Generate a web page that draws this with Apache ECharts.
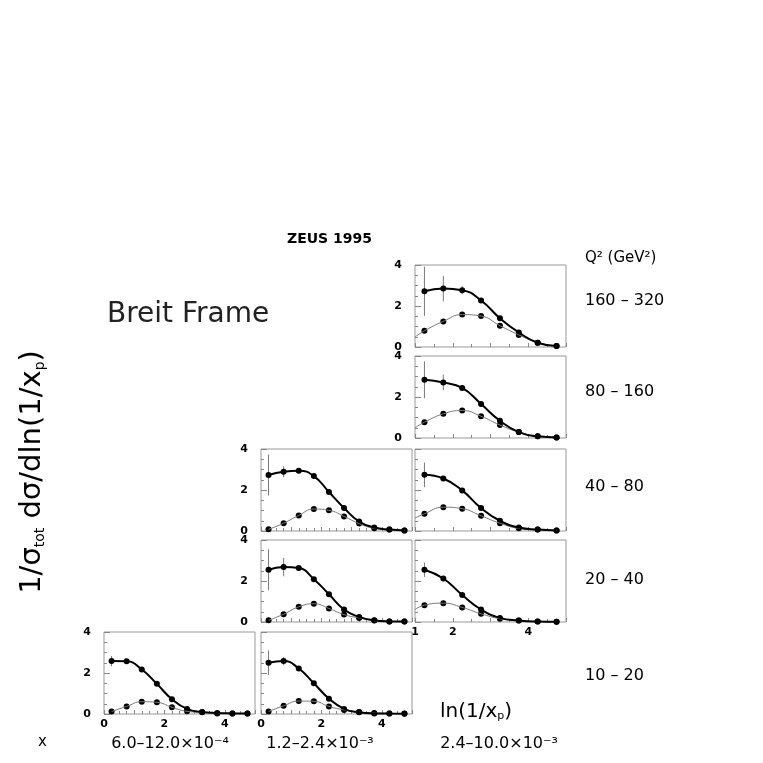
<!DOCTYPE html>
<html>
<head>
<meta charset="utf-8">
<title>ZEUS 1995 - Breit Frame</title>
<script src="https://cdn.jsdelivr.net/npm/echarts@6.0.0/dist/echarts.min.js"></script>
<style>
  html, body { margin: 0; padding: 0; background: #fff; }
  #ch-main { width: 763px; height: 763px; }
</style>
</head>
<body>
<div id="ch-main"></div>
<script>
// ln(1/xp) bin centres
var binsLow = [0.25, 0.75, 1.25, 1.75, 2.25, 2.75, 3.25, 3.75, 4.25, 4.75];
var binsHigh = [1.25, 1.75, 2.25, 2.75, 3.25, 3.75, 4.25, 4.75];

var q2Ranges = ['160 \u2013 320', '80 \u2013 160', '40 \u2013 80', '20 \u2013 40', '10 \u2013 20'];
var xRanges = ['6.0\u201312.0\u00d710\u207b\u2074', '1.2\u20132.4\u00d710\u207b\u00b3', '2.4\u201310.0\u00d710\u207b\u00b3'];
var xTicksLow = [0, 2, 4];
var xTicksHigh = [1, 2, 4];

// Q2 160-320, x 2.4-10.0e-3
var thick160c3 = [2.72, 2.85, 2.77, 2.27, 1.40, 0.71, 0.21, 0.05];
var thin160c3 = [0.79, 1.25, 1.58, 1.51, 1.04, 0.59, 0.21, 0.05];
var err160c3 = [1.2, 0.62, 0.2, 0.08, 0.06, 0.05, 0.03, 0.02];
var edge160c3 = 0.49;

// Q2 80-160, x 2.4-10.0e-3
var thick80c3 = [2.84, 2.71, 2.44, 1.66, 0.84, 0.29, 0.08, 0.03];
var thin80c3 = [0.77, 1.18, 1.34, 1.06, 0.63, 0.29, 0.08, 0.03];
var err80c3 = [0.9, 0.38, 0.12, 0.06, 0.05, 0.04, 0.02, 0.02];
var edge80c3 = 0.5;

// Q2 40-80, x 1.2-2.4e-3
var thick40c2 = [2.73, 2.89, 2.94, 2.68, 1.90, 1.12, 0.46, 0.17, 0.07, 0.03];
var thin40c2 = [0.08, 0.38, 0.76, 1.07, 1.01, 0.71, 0.36, 0.13, 0.07, 0.03];
var err40c2 = [1.0, 0.27, 0.12, 0.08, 0.06, 0.05, 0.03, 0.02, 0.02, 0.01];

// Q2 40-80, x 2.4-10.0e-3
var thick40c3 = [2.74, 2.56, 1.98, 1.12, 0.50, 0.17, 0.07, 0.03];
var thin40c3 = [0.84, 1.16, 1.09, 0.74, 0.38, 0.13, 0.07, 0.03];
var err40c3 = [0.6, 0.12, 0.08, 0.06, 0.04, 0.03, 0.02, 0.01];
var edge40c3 = 0.63;

// Q2 20-40, x 1.2-2.4e-3
var thick20c2 = [2.55, 2.68, 2.63, 2.09, 1.35, 0.61, 0.25, 0.08, 0.03, 0.02];
var thin20c2 = [0.08, 0.38, 0.74, 0.89, 0.66, 0.36, 0.20, 0.07, 0.03, 0.02];
var err20c2 = [1.0, 0.45, 0.1, 0.06, 0.05, 0.04, 0.03, 0.02, 0.01, 0.01];

// Q2 20-40, x 2.4-10.0e-3
var thick20c3 = [2.55, 2.12, 1.32, 0.61, 0.20, 0.07, 0.02, 0.01];
var thin20c3 = [0.82, 0.92, 0.71, 0.40, 0.16, 0.07, 0.02, 0.01];
var err20c3 = [0.35, 0.1, 0.06, 0.05, 0.03, 0.02, 0.01, 0.01];
var edge20c3 = 0.61;

// Q2 10-20, x 6.0-12.0e-4
var thick10c1 = [2.58, 2.57, 2.17, 1.47, 0.72, 0.25, 0.10, 0.05, 0.03, 0.02];
var thin10c1 = [0.12, 0.37, 0.60, 0.57, 0.33, 0.13, 0.08, 0.03, 0.03, 0.02];
var err10c1 = [0.25, 0.1, 0.06, 0.05, 0.04, 0.03, 0.02, 0.01, 0.01, 0.01];

// Q2 10-20, x 1.2-2.4e-3
var thick10c2 = [2.50, 2.58, 2.22, 1.50, 0.75, 0.25, 0.08, 0.03, 0.02, 0.01];
var thin10c2 = [0.12, 0.40, 0.63, 0.62, 0.37, 0.20, 0.10, 0.05, 0.03, 0.02];
var err10c2 = [0.6, 0.2, 0.08, 0.06, 0.05, 0.03, 0.02, 0.01, 0.01, 0.01];

var panels = [
    {row: 0, col: 2, thick: thick160c3, thin: thin160c3, err: err160c3, edge: edge160c3, yLab: true},
    {row: 1, col: 2, thick: thick80c3, thin: thin80c3, err: err80c3, edge: edge80c3, yLab: true},
    {row: 2, col: 1, thick: thick40c2, thin: thin40c2, err: err40c2, yLab: true},
    {row: 2, col: 2, thick: thick40c3, thin: thin40c3, err: err40c3, edge: edge40c3},
    {row: 3, col: 1, thick: thick20c2, thin: thin20c2, err: err20c2, yLab: true},
    {row: 3, col: 2, thick: thick20c3, thin: thin20c3, err: err20c3, edge: edge20c3, xLab: true},
    {row: 4, col: 0, thick: thick10c1, thin: thin10c1, err: err10c1, yLab: true, xLab: true},
    {row: 4, col: 1, thick: thick10c2, thin: thin10c2, err: err10c2, xLab: true}
];

var colLeft = [104, 261, 415];
var rowTop = [265, 356, 449, 540, 632];
var FONT = 'DejaVu Sans';

var myChart = echarts.init(document.getElementById('ch-main'));

var grids = [], xAxes = [], yAxes = [], series = [];

panels.forEach(function (p, i) {
    var high = p.col === 2;
    var bins = high ? binsHigh : binsLow;
    var labs = high ? xTicksHigh : xTicksLow;

    grids.push({left: colLeft[p.col], top: rowTop[p.row], width: 151, height: 82,
        show: true, borderColor: '#999', borderWidth: 1});

    xAxes.push({
        gridIndex: i, type: 'value', min: high ? 1 : 0, max: 5, interval: 1,
        axisLine: {show: false}, splitLine: {show: false},
        axisTick: {show: true, inside: true, length: 4, lineStyle: {color: '#888'}},
        minorTick: {show: true, splitNumber: high ? 2 : 4, length: 3, lineStyle: {color: '#888'}},
        axisLabel: {show: !!p.xLab, margin: 5, fontSize: 11, fontWeight: 'bold', color: '#000', fontFamily: FONT,
            formatter: function (v) { return labs.indexOf(v) >= 0 ? String(v) : ''; }}
    });
    yAxes.push({
        gridIndex: i, type: 'value', min: 0, max: 4, interval: 2,
        axisLine: {show: false}, splitLine: {show: false},
        axisTick: {show: true, inside: true, length: 6, lineStyle: {color: '#888'}},
        minorTick: {show: true, splitNumber: 4, length: 3, lineStyle: {color: '#888'}},
        axisLabel: {show: !!p.yLab, margin: 13, fontSize: 11, fontWeight: 'bold', color: '#000', fontFamily: FONT}
    });

    var thickPts = bins.map(function (x, k) { return [x, p.thick[k]]; });
    var thinPts = bins.map(function (x, k) { return [x, p.thin[k]]; });
    var thinLine = p.edge !== undefined ? [[1, p.edge]].concat(thinPts) : thinPts;
    var errData = bins.map(function (x, k) { return [x, p.thick[k] - p.err[k], p.thick[k] + p.err[k]]; });

    series.push({
        type: 'custom', xAxisIndex: i, yAxisIndex: i, data: errData, silent: true,
        encode: {x: 0, y: [1, 2]},
        renderItem: function (params, api) {
            var a = api.coord([api.value(0), api.value(1)]);
            var b = api.coord([api.value(0), api.value(2)]);
            return {type: 'line', shape: {x1: a[0], y1: a[1], x2: b[0], y2: b[1]},
                style: {stroke: '#777', lineWidth: 1}};
        }
    });
    series.push({type: 'line', xAxisIndex: i, yAxisIndex: i, data: thinLine, smooth: 0.5,
        showSymbol: false, silent: true, lineStyle: {color: '#777', width: 1}});
    series.push({type: 'line', xAxisIndex: i, yAxisIndex: i, data: thickPts, smooth: 0.5,
        showSymbol: false, silent: true, lineStyle: {color: '#000', width: 2}});
    series.push({type: 'scatter', xAxisIndex: i, yAxisIndex: i, data: thickPts.concat(thinPts),
        symbolSize: 6, silent: true, itemStyle: {color: '#000', opacity: 1}});
});

var texts = [
    {type: 'text', left: 287, top: 232, style: {text: 'ZEUS 1995', font: 'bold 14px ' + FONT, fill: '#000'}},
    {type: 'text', left: 107, top: 301, style: {text: 'Breit Frame', font: '28px ' + FONT, fill: '#222'}},
    {type: 'text', left: 585, top: 251, style: {text: 'Q\u00b2 (GeV\u00b2)', font: '15px ' + FONT, fill: '#000'}},
    {type: 'text', left: 38, top: 735, style: {text: 'x', font: '15px ' + FONT, fill: '#000'}},
    {type: 'text', left: 440, top: 702, style: {
        text: '{a|ln(1/x}{s|p}{a|)}', fill: '#000',
        rich: {a: {fontSize: 20, fontFamily: FONT, lineHeight: 28, verticalAlign: 'bottom'},
               s: {fontSize: 11, fontFamily: FONT, lineHeight: 22, verticalAlign: 'bottom'}}}},
    {type: 'text', x: 28, y: 472, rotation: Math.PI / 2, style: {
        text: '{a|1/\u03c3}{s|tot}{a| d\u03c3/dln(1/x}{s|p}{a|)}', fill: '#000',
        align: 'center', verticalAlign: 'middle',
        rich: {a: {fontSize: 29, fontFamily: FONT, lineHeight: 38, verticalAlign: 'bottom'},
               s: {fontSize: 14, fontFamily: FONT, lineHeight: 30, verticalAlign: 'bottom'}}}}
];
var q2Y = [302, 393, 488, 581, 677];
q2Ranges.forEach(function (t, k) {
    texts.push({type: 'text', left: 585, top: q2Y[k] - 9, style: {text: t, font: '16px ' + FONT, fill: '#000'}});
});
var xRangeX = [170, 320, 499];
xRanges.forEach(function (t, k) {
    texts.push({type: 'text', x: xRangeX[k], y: 744, style: {text: t, font: '16px ' + FONT, fill: '#000',
        align: 'center', verticalAlign: 'middle'}});
});

var option = {
    animation: false,
    grid: grids,
    xAxis: xAxes,
    yAxis: yAxes,
    series: series,
    graphic: texts
};

myChart.setOption(option);
</script>
</body>
</html>
